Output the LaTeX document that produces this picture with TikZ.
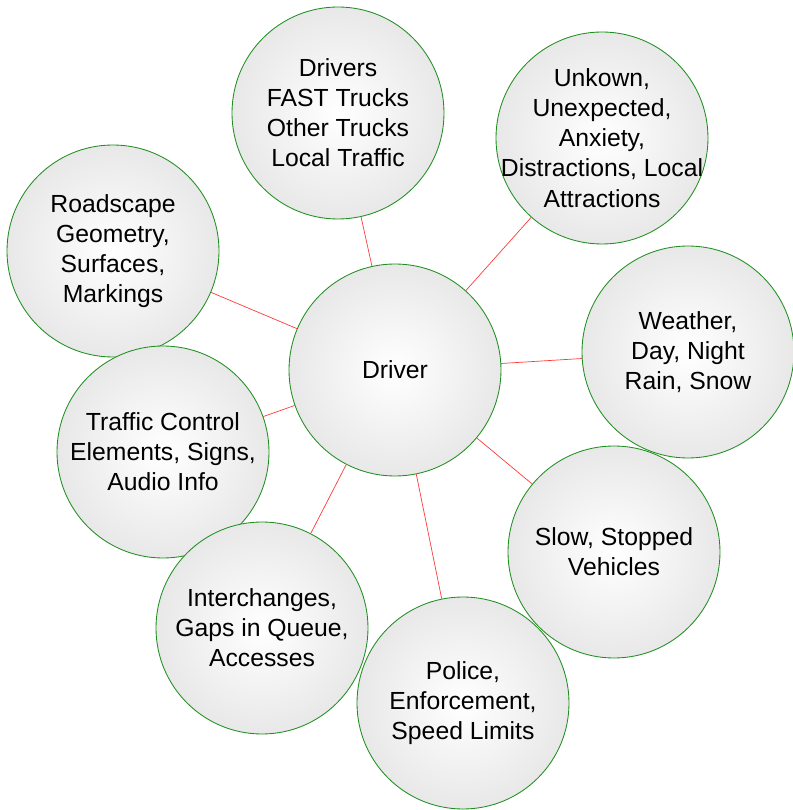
\documentclass[tikz,border=0pt]{standalone}
\usepackage{fontspec}
\setmainfont{Liberation Sans}
\usepackage{xcolor}
\usepackage{tikz}
\definecolor{rimgreen}{HTML}{1E8E1E}
\definecolor{linkred}{HTML}{FF3B3B}
\tikzset{
  txt/.style={align=center,inner sep=0pt,font=\fontsize{17.6}{21.4}\selectfont},
  bub/.style={circle,draw=rimgreen,line width=0.6pt,inner color=white,outer color=gray!18,
    minimum size=5.3cm,inner sep=0pt,label={[txt]center:{#1}}},
  lnk/.style={linkred,line width=0.5pt}
}

\begin{document}
\begin{tikzpicture}
\useasboundingbox (0,0) rectangle (19.825,20.25);
% hub and the eight influences around it
\node[bub={Driver}] (drv) at (9.875,11.0) {};
\node[bub={Drivers\\FAST Trucks\\Other Trucks\\Local Traffic}] (trk) at (8.45,17.425) {};
\node[bub={Unkown,\\Unexpected,\\Anxiety,\\Distractions, Local\\Attractions}] (unk) at (15.05,16.8) {};
\node[bub={Roadscape\\Geometry,\\Surfaces,\\Markings}] (road) at (2.825,13.975) {};
\node[bub={Weather,\\Day, Night\\Rain, Snow}] (wth) at (17.2,11.45) {};
\node[bub={Traffic Control\\Elements, Signs,\\Audio Info}] (tcs) at (4.075,8.95) {};
\node[bub={Slow, Stopped\\Vehicles}] (slow) at (15.35,6.45) {};
\node[bub={Interchanges,\\Gaps in Queue,\\Accesses}] (ich) at (6.55,4.55) {};
\node[bub={Police,\\Enforcement,\\Speed Limits}] (pol) at (11.575,2.675) {};
% spokes
\draw[lnk] (drv)--(trk) (drv)--(unk) (drv)--(road) (drv)--(wth)
  (drv)--(tcs) (drv)--(slow) (drv)--(ich) (drv)--(pol);
\end{tikzpicture}
\end{document}
